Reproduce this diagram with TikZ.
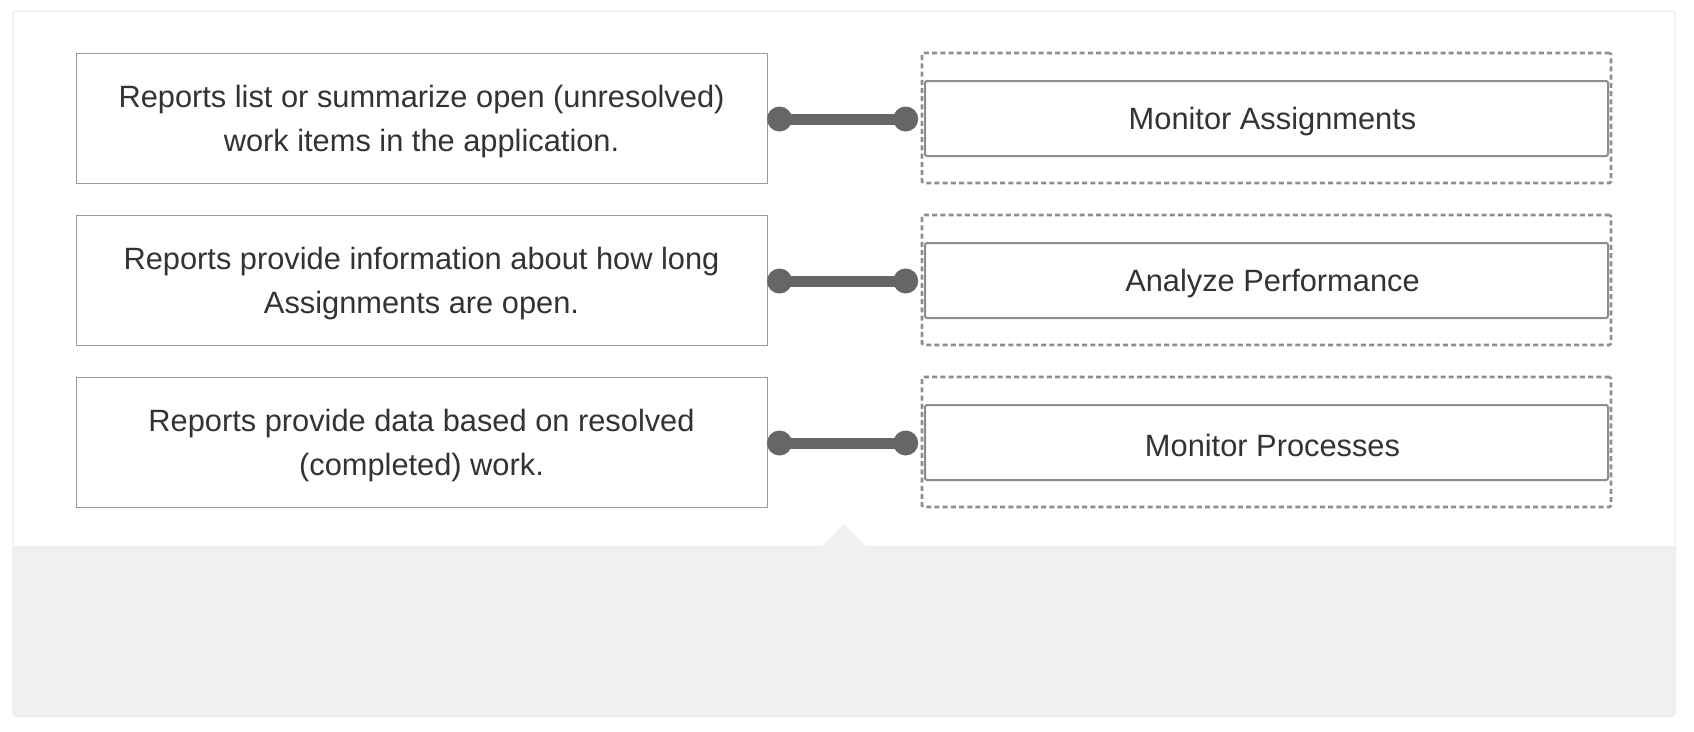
\documentclass[tikz,border=0pt]{standalone}
\usepackage{fontspec}
\setmainfont{Liberation Sans}
\usetikzlibrary{calc}
\definecolor{txt}{HTML}{333333}
\definecolor{boxline}{HTML}{9A9A9A}
\definecolor{dashline}{HTML}{8E8E8E}
\definecolor{innerline}{HTML}{8C8C8C}
\definecolor{conncol}{HTML}{666666}
\definecolor{panelline}{HTML}{E6E6E6}
\definecolor{greyfill}{HTML}{F0F0F0}
\tikzset{
  leftbox/.style={draw=boxline, line width=1pt, fill=white, minimum width=691pt, minimum height=130pt, inner sep=0pt},
  lefttext/.style={align=center, text=txt, font=\fontsize{30.8}{44}\selectfont, inner sep=0pt},
  dashbox/.style={draw=dashline, line width=2.6pt, dash pattern=on 5pt off 3.2pt, rounded corners=1.5pt,
    minimum width=689pt, minimum height=130pt, inner sep=0pt},
  innerbox/.style={draw=innerline, line width=2pt, rounded corners=2pt, fill=white, minimum width=683pt,
    minimum height=75pt, inner sep=0pt},
  righttext/.style={text=txt, font=\fontsize{30.8}{44}\selectfont, inner sep=0pt},
  conn/.style={draw=conncol, line width=11pt},
  dotc/.style={fill=conncol},
}
\begin{document}
\begin{tikzpicture}[x=1pt,y=-1pt]
\useasboundingbox (0,0) rectangle (1694,731);
% panel
\fill[white, rounded corners=3pt] (13,11) rectangle (1675,716);
\fill[greyfill, rounded corners=3pt] (13,546) rectangle (1675,716);
\fill[greyfill] (13,546) rectangle (1675,560);
\fill[greyfill] (822,546.5) -- (844,524) -- (866,546.5) -- cycle;
\draw[panelline, line width=1pt, rounded corners=3pt] (13,11) rectangle (1675,716);
% left boxes
\node[leftbox] (l1) at (421.5,118) {};
\node[leftbox] (l2) at (421.5,280) {};
\node[leftbox] (l3) at (421.5,442) {};
\node[lefttext] (t1) at ([yshift=-4pt]l1.center) {Reports list or summarize open (unresolved)\\work items in the application.};
\node[lefttext] (t2) at ([yshift=-4pt]l2.center) {Reports provide information about how long\\Assignments are open.};
\node[lefttext] (t3) at ([yshift=-4pt]l3.center) {Reports provide data based on resolved\\(completed) work.};
% dashed targets
\node[dashbox] (d1) at (1266.5,118) {};
\node[dashbox] (d2) at (1266.5,280) {};
\node[dashbox] (d3) at (1266.5,442) {};
\node[innerbox] (r1) at (1266.5,118.5) {};
\node[innerbox] (r2) at (1266.5,280.5) {};
\node[innerbox] (r3) at (1266.5,442.5) {};
\node[righttext] (s1) at ([xshift=6pt,yshift=-3pt]r1.center) {Monitor Assignments};
\node[righttext] (s2) at ([xshift=6pt,yshift=-3pt]r2.center) {Analyze Performance};
\node[righttext] (s3) at ([xshift=6pt,yshift=-3pt]r3.center) {Monitor Processes};
% connectors
\foreach \i in {1,2,3}{
  \draw[conn] ([xshift=12pt,yshift=-1pt]l\i.east) coordinate (a\i) -- ([xshift=-15pt,yshift=-1pt]d\i.west) coordinate (b\i);
  \fill[dotc] (a\i) circle (12.5pt);
  \fill[dotc] (b\i) circle (12.5pt);
}
\end{tikzpicture}
\end{document}
